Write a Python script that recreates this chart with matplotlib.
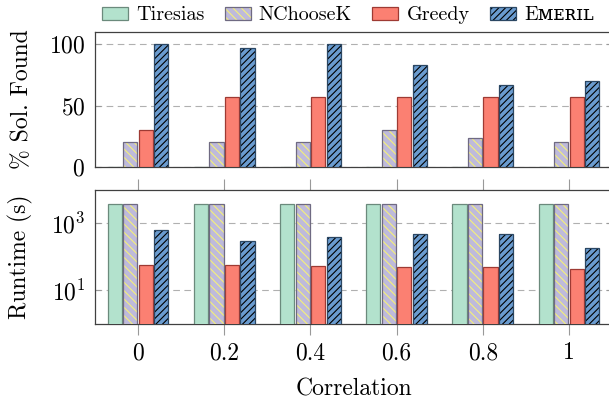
import matplotlib
matplotlib.use("Agg")
import matplotlib.pyplot as plt
import numpy as np
from matplotlib.patches import Patch

plt.rcParams["font.family"] = ["cmr10", "DejaVu Serif"]
plt.rcParams["mathtext.fontset"] = "cm"
plt.rcParams["axes.formatter.use_mathtext"] = True
plt.rcParams["hatch.linewidth"] = 0.8

correlation = [0, 0.2, 0.4, 0.6, 0.8, 1.0]
tick_labels = ["0", "0.2", "0.4", "0.6", "0.8", "1"]
methods = ["Tiresias", "NChooseK", "Greedy", "E\u1d0d\u1d07\u0280\u026a\u029f"]

# % of solutions found
tiresias_found = [0, 0, 0, 0, 0, 0]
nchoosek_found = [20, 20, 20, 30, 23.3, 20]
greedy_found = [30, 56.7, 56.7, 56.7, 56.7, 56.7]
emeril_found = [100, 96.7, 100, 83.3, 66.7, 70]

# runtime in seconds
tiresias_time = [3600, 3600, 3600, 3600, 3600, 3600]
nchoosek_time = [3600, 3600, 3600, 3600, 3600, 3600]
greedy_time = [57, 55, 53, 51, 49, 43]
emeril_time = [630, 300, 375, 470, 470, 180]

styles = [
    dict(fc="#b3e2cd", ec="#6b8a7c", hatch=None, hc=None),
    dict(fc="#bebadb", ec="#6f6a82", hatch="\\\\\\\\", hc="#f4f07a"),
    dict(fc="#fb8072", ec="#9e3a33", hatch=None, hc=None),
    dict(fc="#6a9bcf", ec="#2b4763", hatch="/////", hc="black"),
]

W, H = 609, 401
fig = plt.figure(figsize=(W / 100, H / 100), dpi=100)
ax1 = fig.add_axes([95 / W, 1 - 167 / H, 517 / W, 135 / H])
ax2 = fig.add_axes([95 / W, 1 - 324 / H, 517 / W, 134.5 / H])

x = np.array(correlation)
step = 0.036
width = 0.0326


def draw_bars(ax, series):
    for i, (vals, st) in enumerate(zip(series, styles)):
        pos = x + (i - 1.5) * step
        if st["hatch"]:
            ax.bar(pos, vals, width, color=st["fc"], edgecolor=st["hc"],
                   hatch=st["hatch"], linewidth=0, zorder=3)
            ax.bar(pos, vals, width, fill=False, edgecolor=st["ec"],
                   linewidth=0.9, zorder=4)
        else:
            ax.bar(pos, vals, width, color=st["fc"], edgecolor=st["ec"],
                   linewidth=0.9, zorder=3)


draw_bars(ax1, [tiresias_found, nchoosek_found, greedy_found, emeril_found])
draw_bars(ax2, [tiresias_time, nchoosek_time, greedy_time, emeril_time])

ax2.set_yscale("log")
ax1.set_ylim(0, 110)
ax1.set_yticks([0, 50, 100])
ax2.set_ylim(1, 1e4)
ax2.set_yticks([10, 1000])
ax2.yaxis.set_minor_locator(matplotlib.ticker.NullLocator())

for ax in (ax1, ax2):
    ax.set_xlim(-0.1, 1.1)
    ax.set_xticks(correlation)
    ax.grid(axis="y", color="#b0b0b0", linestyle=(0, (6, 4)), linewidth=0.8, zorder=0)
    ax.tick_params(axis="y", which="both", direction="in", left=True, right=True,
                   length=4, color="#999999", labelsize=17, pad=7)
    for s in ax.spines.values():
        s.set_color("#404040")
        s.set_linewidth(0.9)

ax1.tick_params(axis="x", bottom=False, labelbottom=False)
ax2.tick_params(axis="x", direction="out", bottom=True, top=True, length=8,
                color="#999999", labelsize=17, pad=5)
ax2.set_xticklabels(tick_labels)

ax1.set_ylabel("% Sol. Found", fontsize=17)
ax2.set_ylabel("Runtime (s)", fontsize=17)
ax1.yaxis.set_label_coords(-0.12, 0.5)
ax2.yaxis.set_label_coords(-0.12, 0.5)
ax2.set_xlabel("Correlation", fontsize=17, labelpad=10)

handles = []
for st in styles:
    if st["hatch"]:
        handles.append((Patch(facecolor=st["fc"], edgecolor=st["hc"], hatch=st["hatch"], linewidth=0),
                        Patch(fill=False, edgecolor=st["ec"], linewidth=0.9)))
    else:
        handles.append(Patch(facecolor=st["fc"], edgecolor=st["ec"], linewidth=0.9))

fig.legend(handles, methods, loc="center", bbox_to_anchor=(0.571, 0.962), ncol=4,
           frameon=False, fontsize=14.5, handlelength=1.3, handleheight=0.6,
           handletextpad=0.4, columnspacing=1.0, borderpad=0)

fig.savefig("out.png", dpi=100)
